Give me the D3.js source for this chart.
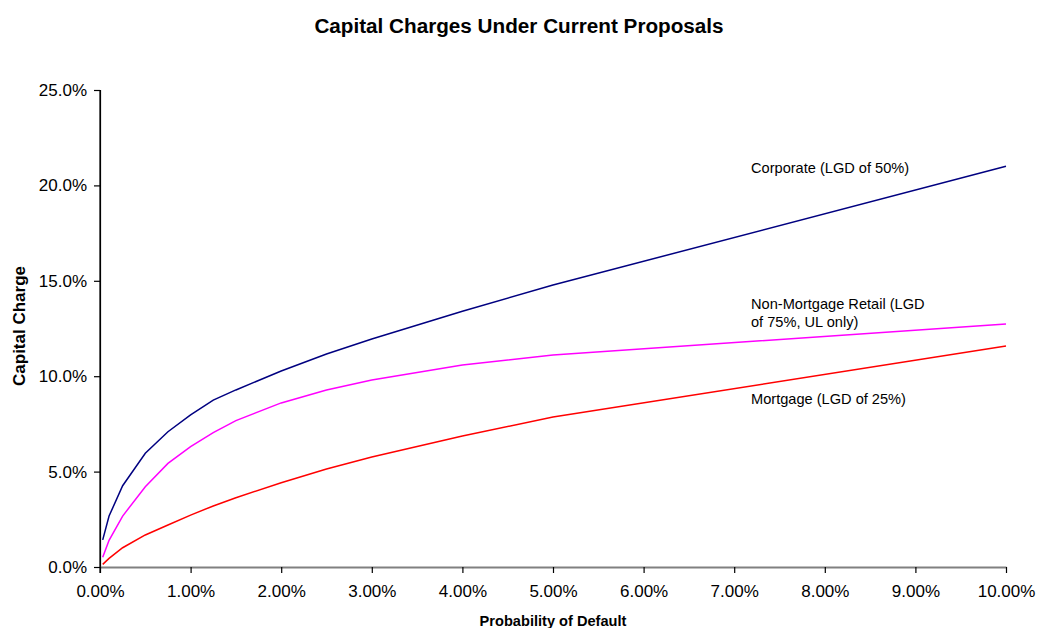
<!DOCTYPE html>
<html>
<head>
<meta charset="utf-8">
<script src="https://cdn.jsdelivr.net/npm/d3@7"></script>
<style>
  html, body { margin: 0; padding: 0; background: #fff; }
  svg { display: block; font-family: "Liberation Sans", Arial, sans-serif; }
</style>
</head>
<body>
<svg id="chart" width="1037" height="628"></svg>
<script>
// Probability of default (%) at which each capital charge was computed
const pd = [0.03, 0.1, 0.25, 0.5, 0.75, 1.0, 1.25, 1.5, 2.0, 2.5, 3.0, 4.0, 5.0, 10.0];

// Capital charge (%) per portfolio
const corporate = [1.42, 2.67, 4.26, 5.96, 7.09, 7.97, 8.75, 9.28, 10.27, 11.16, 11.95, 13.40, 14.78, 21.00];
const retail    = [0.51, 1.40, 2.67, 4.21, 5.43, 6.31, 7.04, 7.67, 8.60, 9.28, 9.80, 10.59, 11.11, 12.74];
const mortgage  = [0.14, 0.45, 1.01, 1.68, 2.20, 2.72, 3.20, 3.63, 4.42, 5.14, 5.77, 6.87, 7.86, 11.58];

const seriesNames = ["Corporate (LGD of 50%)", "Non-Mortgage Retail (LGD|of 75%, UL only)", "Mortgage (LGD of 25%)"];
const xTicks = [0, 1, 2, 3, 4, 5, 6, 7, 8, 9, 10];
const yTicks = [0, 5, 10, 15, 20, 25];

const titleText = "Capital Charges Under Current Proposals";
const xTitle = "Probability of Default";
const yTitle = "Capital Charge";

const svg = d3.select("#chart");
const plotLeft = 100, plotRight = 1006, plotTop = 90, plotBottom = 567;

const x = d3.scaleLinear().domain([0, 10]).range([plotLeft, plotRight]);
const y = d3.scaleLinear().domain([0, 25]).range([plotBottom, plotTop]);

// Title
svg.append("text")
  .attr("x", 519).attr("y", 33)
  .attr("text-anchor", "middle")
  .attr("font-weight", "bold").attr("font-size", 20.7)
  .text(titleText);

// Y axis
const yAxis = svg.append("g")
  .attr("transform", `translate(${plotLeft},0)`)
  .call(d3.axisLeft(y).tickValues(yTicks).tickSize(6).tickPadding(7)
    .tickFormat(d => d.toFixed(1) + "%"));
yAxis.select(".domain").attr("stroke", "#000").attr("stroke-width", 1.2);
yAxis.selectAll(".tick line").attr("stroke", "#000").attr("stroke-width", 1.2);
yAxis.selectAll("text").attr("font-size", 17).attr("fill", "#000")
  .attr("font-family", "Liberation Sans, Arial, sans-serif");

// X axis
const xAxis = svg.append("g")
  .attr("transform", `translate(0,${plotBottom})`)
  .call(d3.axisBottom(x).tickValues(xTicks).tickSize(6).tickSizeOuter(0).tickPadding(12)
    .tickFormat(d => d.toFixed(2) + "%"));
xAxis.select(".domain").attr("stroke", "#808080").attr("stroke-width", 2);
xAxis.selectAll(".tick line").attr("stroke", "#000").attr("stroke-width", 1.2);
xAxis.selectAll("text").attr("font-size", 17).attr("fill", "#000")
  .attr("font-family", "Liberation Sans, Arial, sans-serif");

// Vertical axis line drawn last so it meets the horizontal axis cleanly
svg.append("line")
  .attr("x1", plotLeft).attr("x2", plotLeft).attr("y1", plotTop).attr("y2", plotBottom + 6)
  .attr("stroke", "#000").attr("stroke-width", 1.2);

// Axis titles
svg.append("text")
  .attr("x", 553).attr("y", 626)
  .attr("text-anchor", "middle")
  .attr("font-weight", "bold").attr("font-size", 14.6)
  .text(xTitle);

svg.append("text")
  .attr("transform", "translate(25,326) rotate(-90)")
  .attr("text-anchor", "middle")
  .attr("font-weight", "bold").attr("font-size", 17)
  .text(yTitle);

// Series lines
const line = d3.line().x((d, i) => x(pd[i])).y(d => y(d));
const series = [
  { values: corporate, color: "#000080" },
  { values: retail, color: "#FF00FF" },
  { values: mortgage, color: "#FF0000" }
];
svg.append("g").selectAll("path")
  .data(series)
  .join("path")
  .attr("d", d => line(d.values))
  .attr("fill", "none")
  .attr("stroke", d => d.color)
  .attr("stroke-width", 1.5);

// Series labels
const labelPos = [[751, 173], [751, 309], [751, 404]];
seriesNames.forEach((name, i) => {
  const t = svg.append("text")
    .attr("x", labelPos[i][0]).attr("y", labelPos[i][1])
    .attr("font-size", 14.6).attr("fill", "#000");
  name.split("|").forEach((part, j) => {
    t.append("tspan").attr("x", labelPos[i][0]).attr("dy", j === 0 ? 0 : 18).text(part);
  });
});
</script>
</body>
</html>
